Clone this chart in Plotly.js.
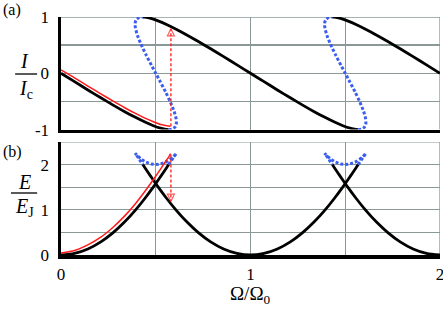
<!DOCTYPE html>
<html>
<head>
<meta charset="utf-8">
<script src="https://cdn.plot.ly/plotly-3.0.1.min.js"></script>
<style>html,body{margin:0;padding:0;background:#fff;}#chart{width:443px;height:315px;}</style>
</head>
<body>
<div id="chart"></div>
<script>
// ---- data ----
// stable branch around Ω/Ω0 = 0
const xA = [0, 0.0714, 0.1418, 0.2101, 0.2752, 0.3363, 0.3926, 0.4432, 0.4877, 0.5254, 0.5563, 0.5683];
const iA = [0, -0.149, -0.296, -0.435, -0.565, -0.682, -0.783, -0.867, -0.932, -0.976, -0.998, -1];
const eA = [0, 0.034, 0.132, 0.289, 0.494, 0.733, 0.992, 1.255, 1.506, 1.733, 1.924, 2];
// stable branch around Ω/Ω0 = 1
const xB = [0.4317, 0.4437, 0.4746, 0.5123, 0.5568, 0.6074, 0.6637, 0.7248, 0.7899, 0.8582, 0.9286, 1, 1.0714, 1.1418, 1.2101, 1.2752, 1.3363, 1.3926, 1.4432, 1.4877, 1.5254, 1.5563, 1.5683];
const iB = [1, 0.998, 0.976, 0.932, 0.867, 0.783, 0.682, 0.565, 0.435, 0.296, 0.149, 0, -0.149, -0.296, -0.435, -0.565, -0.682, -0.783, -0.867, -0.932, -0.976, -0.998, -1];
const eB = [2, 1.924, 1.733, 1.506, 1.255, 0.992, 0.733, 0.494, 0.289, 0.132, 0.034, 0, 0.034, 0.132, 0.289, 0.494, 0.733, 0.992, 1.255, 1.506, 1.733, 1.924, 2];
// stable branch around Ω/Ω0 = 2
const xC = [1.4317, 1.4437, 1.4746, 1.5123, 1.5568, 1.6074, 1.6637, 1.7248, 1.7899, 1.8582, 1.9286, 2];
const iC = [1, 0.998, 0.976, 0.932, 0.867, 0.783, 0.682, 0.565, 0.435, 0.296, 0.149, 0];
const eC = [2, 1.924, 1.733, 1.506, 1.255, 0.992, 0.733, 0.494, 0.289, 0.132, 0.034, 0];
// unstable (dotted) branches
const xU1 = [0.5683, 0.5862, 0.6004, 0.6078, 0.6090, 0.6075, 0.5970, 0.5779, 0.5523, 0.5224, 0.5, 0.4776, 0.4477, 0.4221, 0.4030, 0.3925, 0.3910, 0.3922, 0.3996, 0.4138, 0.4317];
const xU2 = [1.5683, 1.5862, 1.6004, 1.6078, 1.6090, 1.6075, 1.5970, 1.5779, 1.5523, 1.5224, 1.5, 1.4776, 1.4477, 1.4221, 1.4030, 1.3925, 1.3910, 1.3922, 1.3996, 1.4138, 1.4317];
const iU = [-1, -0.992, -0.961, -0.909, -0.866, -0.809, -0.676, -0.516, -0.335, -0.141, 0, 0.141, 0.335, 0.516, 0.676, 0.809, 0.866, 0.909, 0.961, 0.992, 1];
const eU = [2, 2.112, 2.200, 2.243, 2.25, 2.242, 2.194, 2.123, 2.054, 2.010, 2, 2.010, 2.054, 2.123, 2.194, 2.242, 2.25, 2.243, 2.200, 2.112, 2];
// red sweep
const xR = [0, 0.0714, 0.1418, 0.2101, 0.2752, 0.3363, 0.3926, 0.4432, 0.4877, 0.5254, 0.5563, 0.5683, 0.578];
const iR = [0.06, -0.08, -0.227, -0.366, -0.495, -0.612, -0.713, -0.797, -0.862, -0.91, -0.93, -0.937, -0.94];
const eR = [0.045, 0.1, 0.225, 0.395, 0.615, 0.865, 1.135, 1.41, 1.67, 1.9, 2.095, 2.165, 2.24];
// jump arrows
const jumpX = [0.58, 0.58];
const jumpI = [-0.94, 0.79];
const jumpE = [2.22, 1.19];
// ticks (labelled); gridlines every 0.5 via minor ticks
const xTicks = [0, 1, 2];
const xTickText = ['0', '1', '2'];
const iTicks = [-1, 0, 1];
const iTickText = ['-1', '0', '1'];
const eTicks = [0, 1, 2];
const eTickText = ['0', '1', '2'];

const BLACK = '#000000', RED = '#ff1a1a', BLUE = '#3a5ef0', GRID = '#8a9898';
const FONT = '"Liberation Serif", "Times New Roman", serif';

function blk(x, y, xa, ya) {
  return {x: x, y: y, xaxis: xa, yaxis: ya, mode: 'lines', line: {color: BLACK, width: 2.8, shape: 'spline', smoothing: 0.8}, hoverinfo: 'skip'};
}
function blu(x, y, xa, ya) {
  return {x: x, y: y, xaxis: xa, yaxis: ya, mode: 'lines', line: {color: BLUE, width: 3, dash: '3px,2px', shape: 'spline', smoothing: 0.5}, hoverinfo: 'skip'};
}
const traces = [
  blk(xA, iA, 'x', 'y'), blk(xB, iB, 'x', 'y'), blk(xC, iC, 'x', 'y'),
  blu(xU1, iU, 'x', 'y'), blu(xU2, iU, 'x', 'y'),
  {x: xR, y: iR, xaxis: 'x', yaxis: 'y', mode: 'lines', line: {color: RED, width: 1.5, shape: 'spline', smoothing: 0.6}},
  {x: jumpX, y: jumpI, xaxis: 'x', yaxis: 'y', mode: 'lines+markers', line: {color: RED, width: 1.3, dash: '3px,2px'},
   marker: {symbol: ['circle', 'arrow-up-open'], size: [0, 7], color: RED, line: {color: RED, width: 1.2}}},
  blk(xA, eA, 'x2', 'y2'), blk(xB, eB, 'x2', 'y2'), blk(xC, eC, 'x2', 'y2'),
  {x: xU1, y: eU, xaxis: 'x2', yaxis: 'y2', mode: 'lines', line: {color: BLUE, width: 3, dash: '3px,2px'}},
  {x: xU2, y: eU, xaxis: 'x2', yaxis: 'y2', mode: 'lines', line: {color: BLUE, width: 3, dash: '3px,2px'}},
  {x: xR, y: eR, xaxis: 'x2', yaxis: 'y2', mode: 'lines', line: {color: RED, width: 1.5, shape: 'spline', smoothing: 0.6}},
  {x: jumpX, y: jumpE, xaxis: 'x2', yaxis: 'y2', mode: 'lines+markers', line: {color: RED, width: 1.3, dash: '3px,2px'},
   marker: {symbol: ['circle', 'arrow-down-open'], size: [0, 7], color: RED, line: {color: RED, width: 1.2}}}
];

const axCommon = {showgrid: true, gridcolor: GRID, gridwidth: 1.3, zeroline: false, showline: true, linecolor: BLACK, linewidth: 3.5,
  ticks: '', tickfont: {family: FONT, size: 17, color: BLACK}, fixedrange: true, ticklabeloverflow: 'allow',
  minor: {dtick: 0.5, showgrid: true, gridcolor: GRID, gridwidth: 1.3, ticks: ''}};

function gridEdge(xr, yr, x0, x1, y0, y1) {
  return {type: 'line', layer: 'below', xref: xr, yref: yr, x0: x0, x1: x1, y0: y0, y1: y1, line: {color: GRID, width: 1.3}};
}

const layout = {
  width: 443, height: 315,
  margin: {l: 61, r: 3, t: 17, b: 60},
  paper_bgcolor: '#ffffff', plot_bgcolor: '#ffffff',
  showlegend: false,
  font: {family: FONT, color: BLACK},
  xaxis: Object.assign({}, axCommon, {domain: [0, 1], range: [0, 2], tickvals: xTicks, ticktext: xTickText, showticklabels: false, anchor: 'y'}),
  yaxis: Object.assign({}, axCommon, {domain: [0.527, 1], range: [-1, 1], tickvals: iTicks, ticktext: iTickText, anchor: 'x', ticklabelstandoff: 5}),
  xaxis2: Object.assign({}, axCommon, {domain: [0, 1], range: [0, 2], tickvals: xTicks, ticktext: xTickText, anchor: 'y2', ticklabelstandoff: 1}),
  yaxis2: Object.assign({}, axCommon, {domain: [0, 0.475], range: [0, 2.5], tickvals: eTicks, ticktext: eTickText, anchor: 'x2', ticklabelstandoff: 5}),
  annotations: [
    {xref: 'paper', yref: 'paper', x: -0.158, y: 1.03, xanchor: 'left', yanchor: 'middle', text: '(a)', showarrow: false, font: {family: FONT, size: 16}},
    {xref: 'paper', yref: 'paper', x: -0.158, y: 0.433, xanchor: 'left', yanchor: 'middle', text: '(b)', showarrow: false, font: {family: FONT, size: 16}},
    {xref: 'paper', yref: 'paper', x: -0.095, y: 0.815, xanchor: 'center', yanchor: 'middle', text: '<i>I</i>', showarrow: false, font: {family: FONT, size: 20}},
    {xref: 'paper', yref: 'paper', x: -0.092, y: 0.697, xanchor: 'center', yanchor: 'middle', text: '<i>I</i><sub>c</sub>', showarrow: false, font: {family: FONT, size: 20}},
    {xref: 'paper', yref: 'paper', x: -0.097, y: 0.307, xanchor: 'center', yanchor: 'middle', text: '<i>E</i>', showarrow: false, font: {family: FONT, size: 20}},
    {xref: 'paper', yref: 'paper', x: -0.097, y: 0.200, xanchor: 'center', yanchor: 'middle', text: '<i>E</i><sub>J</sub>', showarrow: false, font: {family: FONT, size: 20}},
    {xref: 'paper', yref: 'paper', x: 0.5, y: -0.168, xanchor: 'center', yanchor: 'middle', text: 'Ω/Ω<sub>0</sub>', showarrow: false, font: {family: FONT, size: 19}}
  ],
  shapes: [
    {type: 'line', xref: 'paper', yref: 'paper', x0: -0.121, x1: -0.063, y0: 0.7605, y1: 0.7605, line: {color: BLACK, width: 1.3}},
    {type: 'line', xref: 'paper', yref: 'paper', x0: -0.132, x1: -0.063, y0: 0.2605, y1: 0.2605, line: {color: BLACK, width: 1.3}},
    gridEdge('x', 'y', 0, 2, 1, 1),
    gridEdge('x', 'y', 2, 2, -1, 1),
    gridEdge('x2', 'y2', 0, 2, 2.5, 2.5),
    gridEdge('x2', 'y2', 2, 2, 0, 2.5)
  ]
};

Plotly.newPlot('chart', traces, layout, {staticPlot: true, displayModeBar: false});
</script>
</body>
</html>
